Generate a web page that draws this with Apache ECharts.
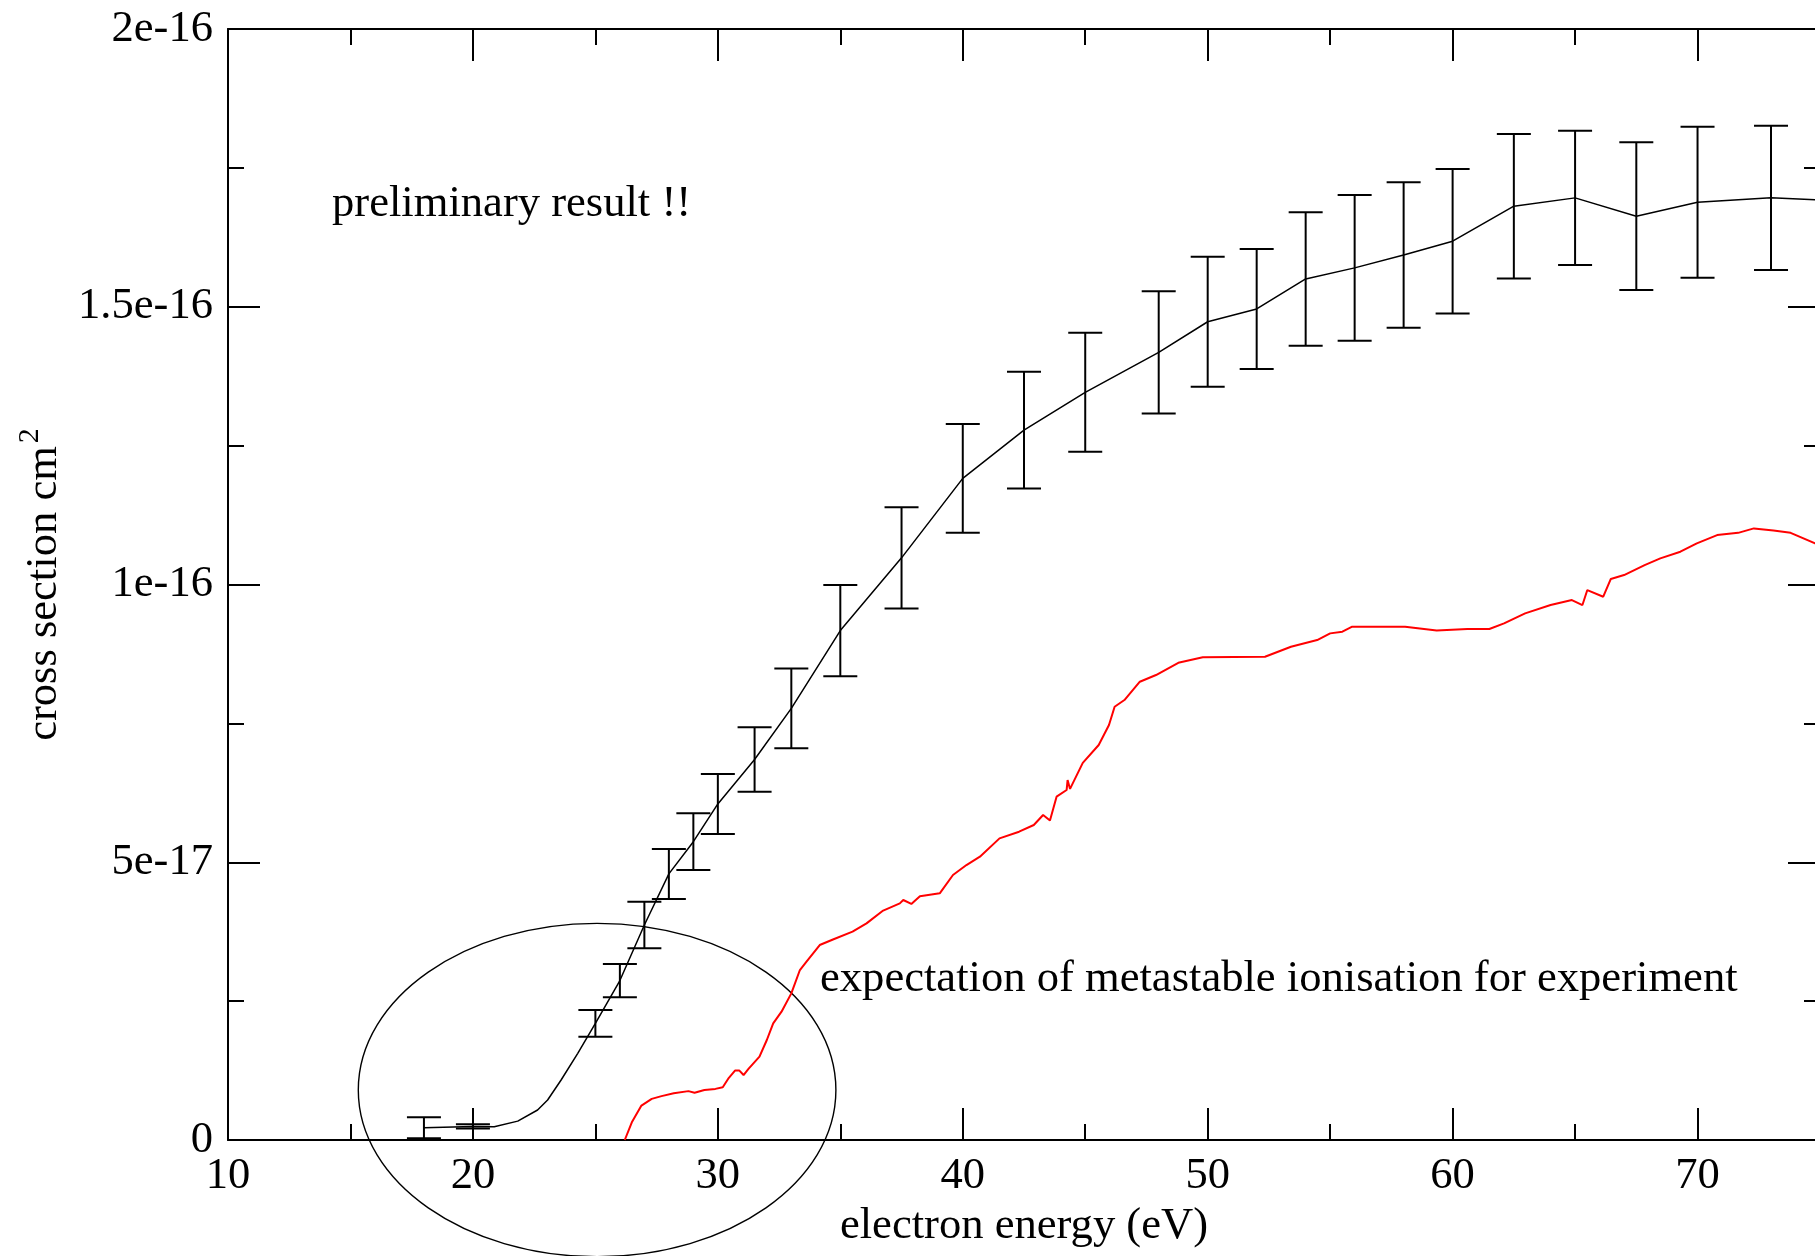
<!DOCTYPE html>
<html>
<head>
<meta charset="utf-8">
<script src="https://cdn.jsdelivr.net/npm/echarts@6/dist/echarts.min.js"></script>
<style>
html,body{margin:0;padding:0;background:#fff;}
#chart{width:1815px;height:1256px;}
</style>
</head>
<body>
<div id="chart"></div>
<script>
// ---- data (y values in units of 1e-17 cm^2) ----
const xTickLabels = [10, 20, 30, 40, 50, 60, 70];
const yTickValues = [0, 5, 10, 15, 20];
const yTickLabels = ['0', '5e-17', '1e-16', '1.5e-16', '2e-16'];

// measured cross section (black) with error bars (null = no bar)
const blackE = [18, 20, 20.87, 21.83, 22.64, 23.05, 23.6, 24.28, 25, 26, 27, 28, 29, 30, 31.5, 33, 35, 37.5, 40, 42.5, 45, 48, 50, 52, 54, 56, 58, 60, 62.5, 65, 67.5, 70, 73, 75];
const blackV = [0.22, 0.245, 0.24, 0.34, 0.54, 0.72, 1.08, 1.56, 2.1, 2.87, 3.87, 4.79, 5.37, 6.05, 6.85, 7.77, 9.17, 10.48, 11.91, 12.78, 13.46, 14.18, 14.73, 14.96, 15.5, 15.7, 15.93, 16.18, 16.81, 16.96, 16.63, 16.88, 16.96, 16.92];
const blackErr = [0.19, 0.04, null, null, null, null, null, null, 0.24, 0.3, 0.42, 0.45, 0.51, 0.54, 0.58, 0.72, 0.82, 0.91, 0.98, 1.05, 1.07, 1.1, 1.17, 1.08, 1.2, 1.31, 1.31, 1.3, 1.3, 1.21, 1.33, 1.36, 1.3, null];

// expected metastable ionisation (red)
const redE = [26.2, 26.5, 26.88, 27.3, 27.7, 28.2, 28.8, 29.05, 29.45, 29.9, 30.2, 30.45, 30.7, 30.88, 31.05, 31.25, 31.7, 32.0, 32.26, 32.6, 33.0, 33.35, 33.62, 34.16, 34.7, 35.5, 36.07, 36.75, 37.43, 37.57, 37.9, 38.25, 39.06, 39.6, 40.15, 40.7, 41.5, 42.3, 42.9, 43.28, 43.56, 43.83, 44.24, 44.28, 44.38, 44.9, 45.55, 45.97, 46.2, 46.6, 47.23, 47.89, 48.8, 49.8, 52.34, 53.4, 54.47, 55.0, 55.5, 55.9, 56.8, 58.06, 59.35, 60.6, 61.5, 62.1, 62.96, 64.0, 64.87, 65.3, 65.5, 66.15, 66.46, 67.0, 67.84, 68.48, 69.3, 69.97, 70.8, 71.66, 72.3, 73.1, 73.8, 74.8, 75.2];
const redV = [0.0, 0.33, 0.62, 0.74, 0.79, 0.84, 0.88, 0.85, 0.9, 0.92, 0.95, 1.12, 1.25, 1.25, 1.17, 1.28, 1.5, 1.8, 2.1, 2.31, 2.64, 3.06, 3.21, 3.51, 3.61, 3.75, 3.9, 4.13, 4.26, 4.32, 4.25, 4.39, 4.44, 4.77, 4.95, 5.1, 5.43, 5.55, 5.67, 5.85, 5.75, 6.18, 6.3, 6.48, 6.32, 6.79, 7.11, 7.47, 7.8, 7.92, 8.25, 8.37, 8.59, 8.69, 8.7, 8.88, 9.0, 9.12, 9.15, 9.24, 9.24, 9.24, 9.17, 9.2, 9.2, 9.3, 9.48, 9.63, 9.72, 9.63, 9.9, 9.78, 10.1, 10.17, 10.35, 10.47, 10.59, 10.74, 10.89, 10.93, 11.01, 10.97, 10.93, 10.74, 10.65];

// annotation ellipse (data units)
const ellipseCenter = [25.07, 0.9];
const ellipseRadii = [9.75, 3.0];

// ---- chart ----
const FONT = '"Liberation Serif", "Times New Roman", serif';
const FS = 44.6;
const blackLine = blackE.map((e, i) => [e, blackV[i]]);
const errData = [];
blackE.forEach((e, i) => { if (blackErr[i] !== null) errData.push([e, blackV[i], blackErr[i]]); });
const redLine = redE.map((e, i) => [e, redV[i]]);

const axisLineStyle = { color: '#000', width: 2 };
function xAx(pos, interval, tickLen, showLine, showLabel) {
  return {
    type: 'value', position: pos, min: 10, max: 75, interval: interval,
    axisLine: { show: showLine, onZero: false, lineStyle: axisLineStyle },
    axisTick: { show: true, inside: true, length: tickLen, lineStyle: axisLineStyle },
    axisLabel: showLabel ? {
      show: true, showMaxLabel: false, margin: 14, color: '#000', fontSize: FS, fontFamily: FONT,
      formatter: v => (xTickLabels.indexOf(v) >= 0 ? String(v) : '')
    } : { show: false },
    splitLine: { show: false }
  };
}
const xMain = xAx('bottom', 10, 32, true, true);
xMain.name = 'electron energy (eV)';
xMain.nameLocation = 'middle';
xMain.nameGap = 57;
xMain.nameTextStyle = { color: '#000', fontSize: FS, fontFamily: FONT };

function yAx(pos, showLabel) {
  return {
    type: 'value', position: pos, min: 0, max: 20, interval: 5,
    axisLine: { show: true, onZero: false, lineStyle: axisLineStyle },
    axisTick: { show: true, inside: true, length: 32, lineStyle: axisLineStyle },
    minorTick: { show: true, splitNumber: 2, length: 16, lineStyle: axisLineStyle },
    axisLabel: showLabel ? {
      show: true, margin: 15, color: '#000', fontSize: FS, fontFamily: FONT, padding: [6, 0, 0, 0],
      formatter: v => { const i = yTickValues.indexOf(Math.round(v * 1000) / 1000); return i >= 0 ? yTickLabels[i] : ''; }
    } : { show: false },
    splitLine: { show: false }, minorSplitLine: { show: false }
  };
}
const yMain = yAx('left', true);
yMain.name = '{a|cross section cm}{b|2}';
yMain.nameLocation = 'middle';
yMain.nameGap = 138;
yMain.nameRotate = 90;
yMain.nameTextStyle = {
  rich: {
    a: { fontSize: FS, fontFamily: FONT, color: '#000', lineHeight: 59, verticalAlign: 'middle' },
    b: { fontSize: 30, fontFamily: FONT, color: '#000', verticalAlign: 'top', padding: [0, 0, 0, 3] }
  }
};

const chart = echarts.init(document.getElementById('chart'), null, { renderer: 'canvas' });
chart.setOption({
  animation: false,
  backgroundColor: '#fff',
  grid: { left: 228, top: 29, width: 1592, height: 1111, containLabel: false, outerBoundsMode: 'none' },
  xAxis: [
    xMain,
    xAx('bottom', 5, 16, false, false),
    xAx('top', 10, 32, true, false),
    xAx('top', 5, 16, false, false)
  ],
  yAxis: [yMain, yAx('right', false)],
  series: [
    {
      type: 'line', data: redLine, xAxisIndex: 0, yAxisIndex: 0,
      showSymbol: false, symbol: 'none', clip: true,
      lineStyle: { color: '#ff0000', width: 2 }, z: 3
    },
    {
      type: 'line', data: blackLine, xAxisIndex: 0, yAxisIndex: 0,
      showSymbol: false, symbol: 'none', clip: true,
      lineStyle: { color: '#000', width: 1.5 }, z: 4
    },
    {
      type: 'custom', data: errData, xAxisIndex: 0, yAxisIndex: 0, z: 5,
      encode: { x: 0, y: 1 },
      renderItem: function (params, api) {
        const x = api.value(0), v = api.value(1), e = api.value(2);
        const t = api.coord([x, v + e]);
        const b = api.coord([x, Math.max(0, v - e)]);
        const hw = 17;
        const st = { stroke: '#000', lineWidth: 2, fill: null };
        return {
          type: 'group', children: [
            { type: 'line', shape: { x1: t[0], y1: t[1], x2: b[0], y2: b[1] }, style: st },
            { type: 'line', shape: { x1: t[0] - hw, y1: t[1], x2: t[0] + hw, y2: t[1] }, style: st },
            { type: 'line', shape: { x1: b[0] - hw, y1: b[1], x2: b[0] + hw, y2: b[1] }, style: st }
          ]
        };
      }
    },
    {
      type: 'custom', data: [[ellipseCenter[0], ellipseCenter[1], ellipseRadii[0], ellipseRadii[1]]],
      xAxisIndex: 0, yAxisIndex: 0, z: 2, clip: false,
      encode: { x: 0, y: 1 },
      renderItem: function (params, api) {
        const c = api.coord([api.value(0), api.value(1)]);
        const s = api.size([api.value(2), api.value(3)]);
        return {
          type: 'ellipse',
          shape: { cx: c[0], cy: c[1], rx: s[0], ry: s[1] },
          style: { fill: null, stroke: '#000', lineWidth: 1.4 }
        };
      }
    }
  ],
  graphic: [
    { type: 'text', x: 332, y: 204.6, silent: true,
      style: { text: 'preliminary result !!', font: FS + 'px ' + FONT, fill: '#000', align: 'left', verticalAlign: 'middle' } },
    { type: 'text', x: 820, y: 979, silent: true,
      style: { text: 'expectation of metastable ionisation for experiment', font: FS + 'px ' + FONT, fill: '#000', align: 'left', verticalAlign: 'middle' } }
  ]
});
</script>
</body>
</html>
